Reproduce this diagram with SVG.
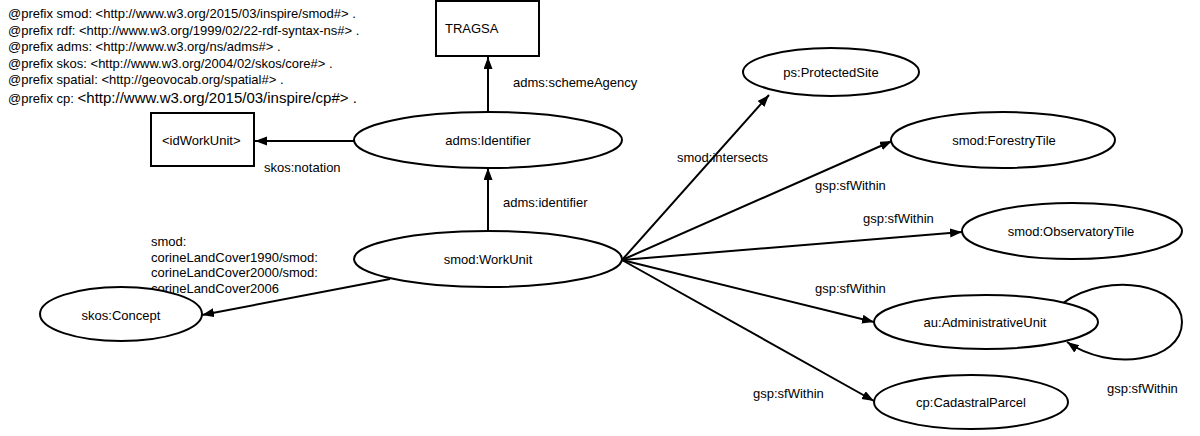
<svg xmlns="http://www.w3.org/2000/svg" width="1200" height="436" viewBox="0 0 1200 436">
<style>
text{font-family:"Liberation Sans",Arial,sans-serif;font-size:13px;fill:#000}
.n{fill:#fff;stroke:#000;stroke-width:2}
.c{fill:none;stroke:#000;stroke-width:2;marker-end:url(#ah)}
.m{text-anchor:middle}
</style>
<defs>
<marker id="ah" markerUnits="userSpaceOnUse" markerWidth="13" markerHeight="10" refX="12" refY="4.5" orient="auto" viewBox="0 0 13 10">
<path d="M0,0 L12,4.5 L0,9 z" fill="#000"/>
</marker>
</defs>
<rect width="1200" height="436" fill="#fff"/>
<g id="prefixes">
<text x="8" y="18">@prefix smod: &lt;http://www.w3.org/2015/03/inspire/smod#&gt; .</text>
<text x="8" y="34.5">@prefix rdf: &lt;http://www.w3.org/1999/02/22-rdf-syntax-ns#&gt; .</text>
<text x="8" y="51">@prefix adms: &lt;http://www.w3.org/ns/adms#&gt; .</text>
<text x="8" y="67.5">@prefix skos: &lt;http://www.w3.org/2004/02/skos/core#&gt; .</text>
<text x="8" y="84">@prefix spatial: &lt;http://geovocab.org/spatial#&gt; .</text>
<text x="8" y="103">@prefix cp: <tspan style="font-size:15px">&lt;http://www.w3.org/2015/03/inspire/cp#&gt; .</tspan></text>
</g>
<g id="connectors">
<path class="c" d="M488,112 L488,57"/>
<path class="c" d="M354,141 L255,141"/>
<path class="c" d="M488,231 L488,168"/>
<path class="c" d="M390,279 L202,315"/>
<path class="c" d="M622,260 L769,95"/>
<path class="c" d="M622,260 L892,141"/>
<path class="c" d="M622,260 L962,232"/>
<path class="c" d="M622,260 L874,322"/>
<path class="c" d="M622,260 L874,401"/>
<path class="c" d="M1063,303 C1110,270 1182,285 1182,322 C1182,362 1110,372 1067,342"/>
<text x="513" y="87">adms:schemeAgency</text>
<text x="264" y="172">skos:notation</text>
<text x="503" y="207">adms:identifier</text>
<text x="151" y="246">smod:</text>
<text x="151" y="262">corineLandCover1990/smod:</text>
<text x="151" y="277">corineLandCover2000/smod:</text>
<text x="151" y="293">corineLandCover2006</text>
<text x="677" y="162">smod:intersects</text>
<text x="815" y="190">gsp:sfWithin</text>
<text x="863" y="223">gsp:sfWithin</text>
<text x="815" y="293">gsp:sfWithin</text>
<text x="753" y="398">gsp:sfWithin</text>
<text x="1107" y="393">gsp:sfWithin</text>
</g>
<g id="tragsa">
<rect class="n" x="436" y="1" width="103" height="55"/>
<text x="445" y="33">TRAGSA</text>
</g>
<g id="idWorkUnit">
<rect class="n" x="151" y="113" width="103" height="53"/>
<text x="162" y="145">&lt;idWorkUnit&gt;</text>
</g>
<g id="admsIdentifier">
<ellipse class="n" cx="488" cy="140" rx="134" ry="28"/>
<text class="m" x="488" y="145">adms:Identifier</text>
</g>
<g id="workUnit">
<ellipse class="n" cx="488" cy="259" rx="134" ry="28"/>
<text class="m" x="488" y="264">smod:WorkUnit</text>
</g>
<g id="skosConcept">
<ellipse class="n" cx="121" cy="314" rx="81" ry="27"/>
<text class="m" x="121" y="320">skos:Concept</text>
</g>
<g id="protectedSite">
<ellipse class="n" cx="831" cy="72" rx="88" ry="24"/>
<text class="m" x="831" y="77">ps:ProtectedSite</text>
</g>
<g id="forestryTile">
<ellipse class="n" cx="1003" cy="140" rx="112" ry="28"/>
<text class="m" x="1004" y="145">smod:ForestryTile</text>
</g>
<g id="observatoryTile">
<ellipse class="n" cx="1072" cy="231" rx="110" ry="28"/>
<text class="m" x="1071" y="236">smod:ObservatoryTile</text>
</g>
<g id="administrativeUnit">
<ellipse class="n" cx="986" cy="322" rx="112" ry="27"/>
<text class="m" x="985" y="327">au:AdministrativeUnit</text>
</g>
<g id="cadastralParcel">
<ellipse class="n" cx="971" cy="402" rx="97" ry="27"/>
<text class="m" x="971" y="407">cp:CadastralParcel</text>
</g>
</svg>
